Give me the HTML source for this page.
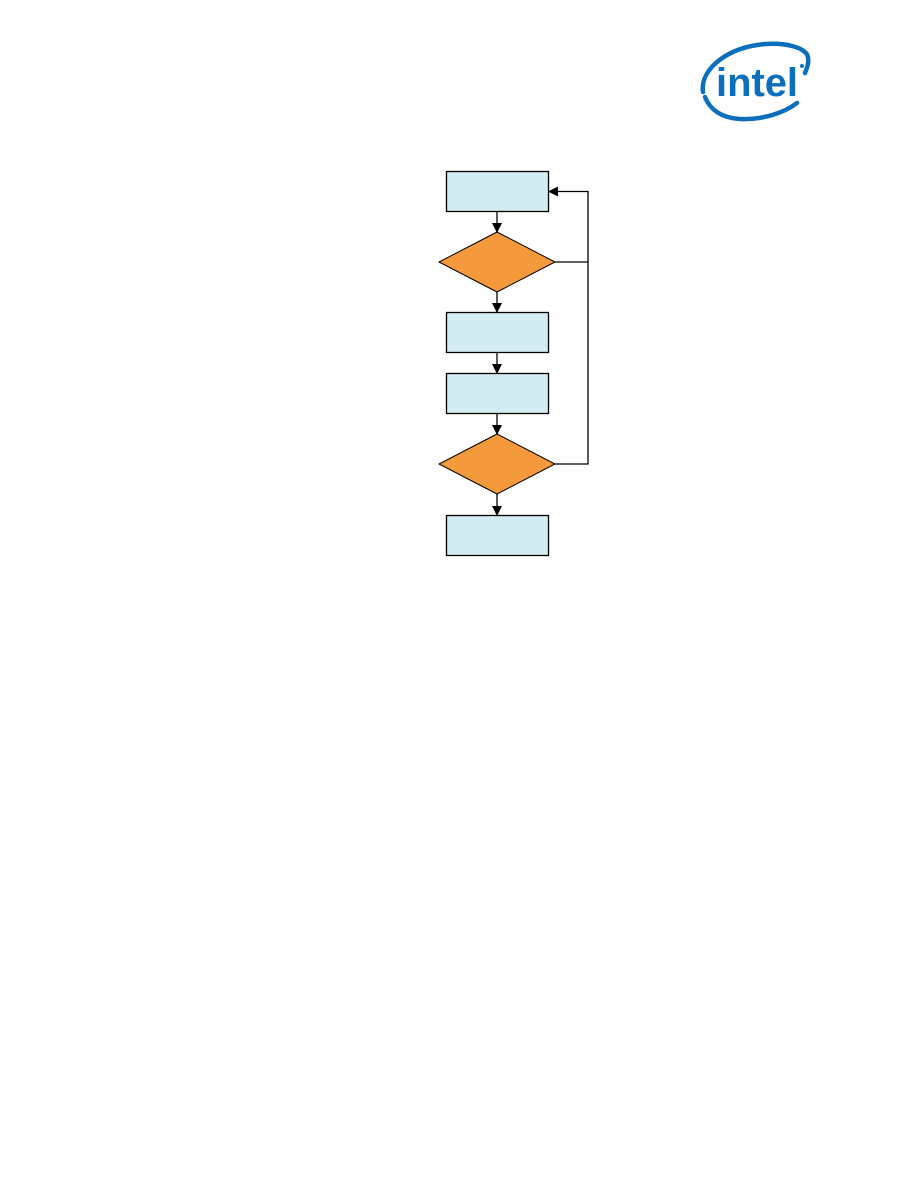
<!DOCTYPE html>
<html><head><style>
html,body{margin:0;padding:0;background:#fff;}
</style></head><body>
<svg width="918" height="1188" viewBox="0 0 918 1188" xmlns="http://www.w3.org/2000/svg">
<defs><marker id="a" markerWidth="10" markerHeight="10" refX="9" refY="5" orient="auto" markerUnits="userSpaceOnUse"><path d="M0,0 L10,5 L0,10 z" fill="#000"/></marker></defs>
<!-- logo -->
<g fill="none" stroke="#0b6fbe" stroke-linecap="round">
<path d="M703,92 C700,70 725,50 757,45 C785,41 808,48 808,58 C809,63 807,68 805,73" stroke-width="4.5"/>
<path d="M705,97 C710,110 722,118 740,119 C762,120 784,113 797,103" stroke-width="4.5"/>
</g>
<text x="716" y="96" font-family="Liberation Sans, sans-serif" font-weight="bold" font-size="40" fill="#0b6fbe" textLength="82" lengthAdjust="spacingAndGlyphs">intel</text>
<circle cx="802" cy="66" r="2" fill="#0b6fbe"/>
<!-- flow -->
<g stroke="#000" stroke-width="1.3">
<rect x="446.5" y="171.5" width="102" height="40" fill="#d4ecf3"/>
<polygon points="497,232 555,262 497,292 439,262" fill="#f59a3c" stroke-width="1"/>
<rect x="446.5" y="312.5" width="102" height="40" fill="#d4ecf3"/>
<rect x="446.5" y="373.5" width="102" height="40" fill="#d4ecf3"/>
<polygon points="497,434 555,464 497,494 439,464" fill="#f59a3c" stroke-width="1"/>
<rect x="446.5" y="515.5" width="102" height="40" fill="#d4ecf3"/>
<g fill="none">
<line x1="497" y1="212" x2="497" y2="232" marker-end="url(#a)"/>
<line x1="497" y1="292" x2="497" y2="312" marker-end="url(#a)"/>
<line x1="497" y1="353" x2="497" y2="373" marker-end="url(#a)"/>
<line x1="497" y1="414" x2="497" y2="434" marker-end="url(#a)"/>
<line x1="497" y1="494" x2="497" y2="515" marker-end="url(#a)"/>
<line x1="555" y1="262" x2="588" y2="262"/>
<polyline points="555,464 588,464 588,191.5 549,191.5" marker-end="url(#a)"/>
</g>
</g>
</svg>
</body></html>
